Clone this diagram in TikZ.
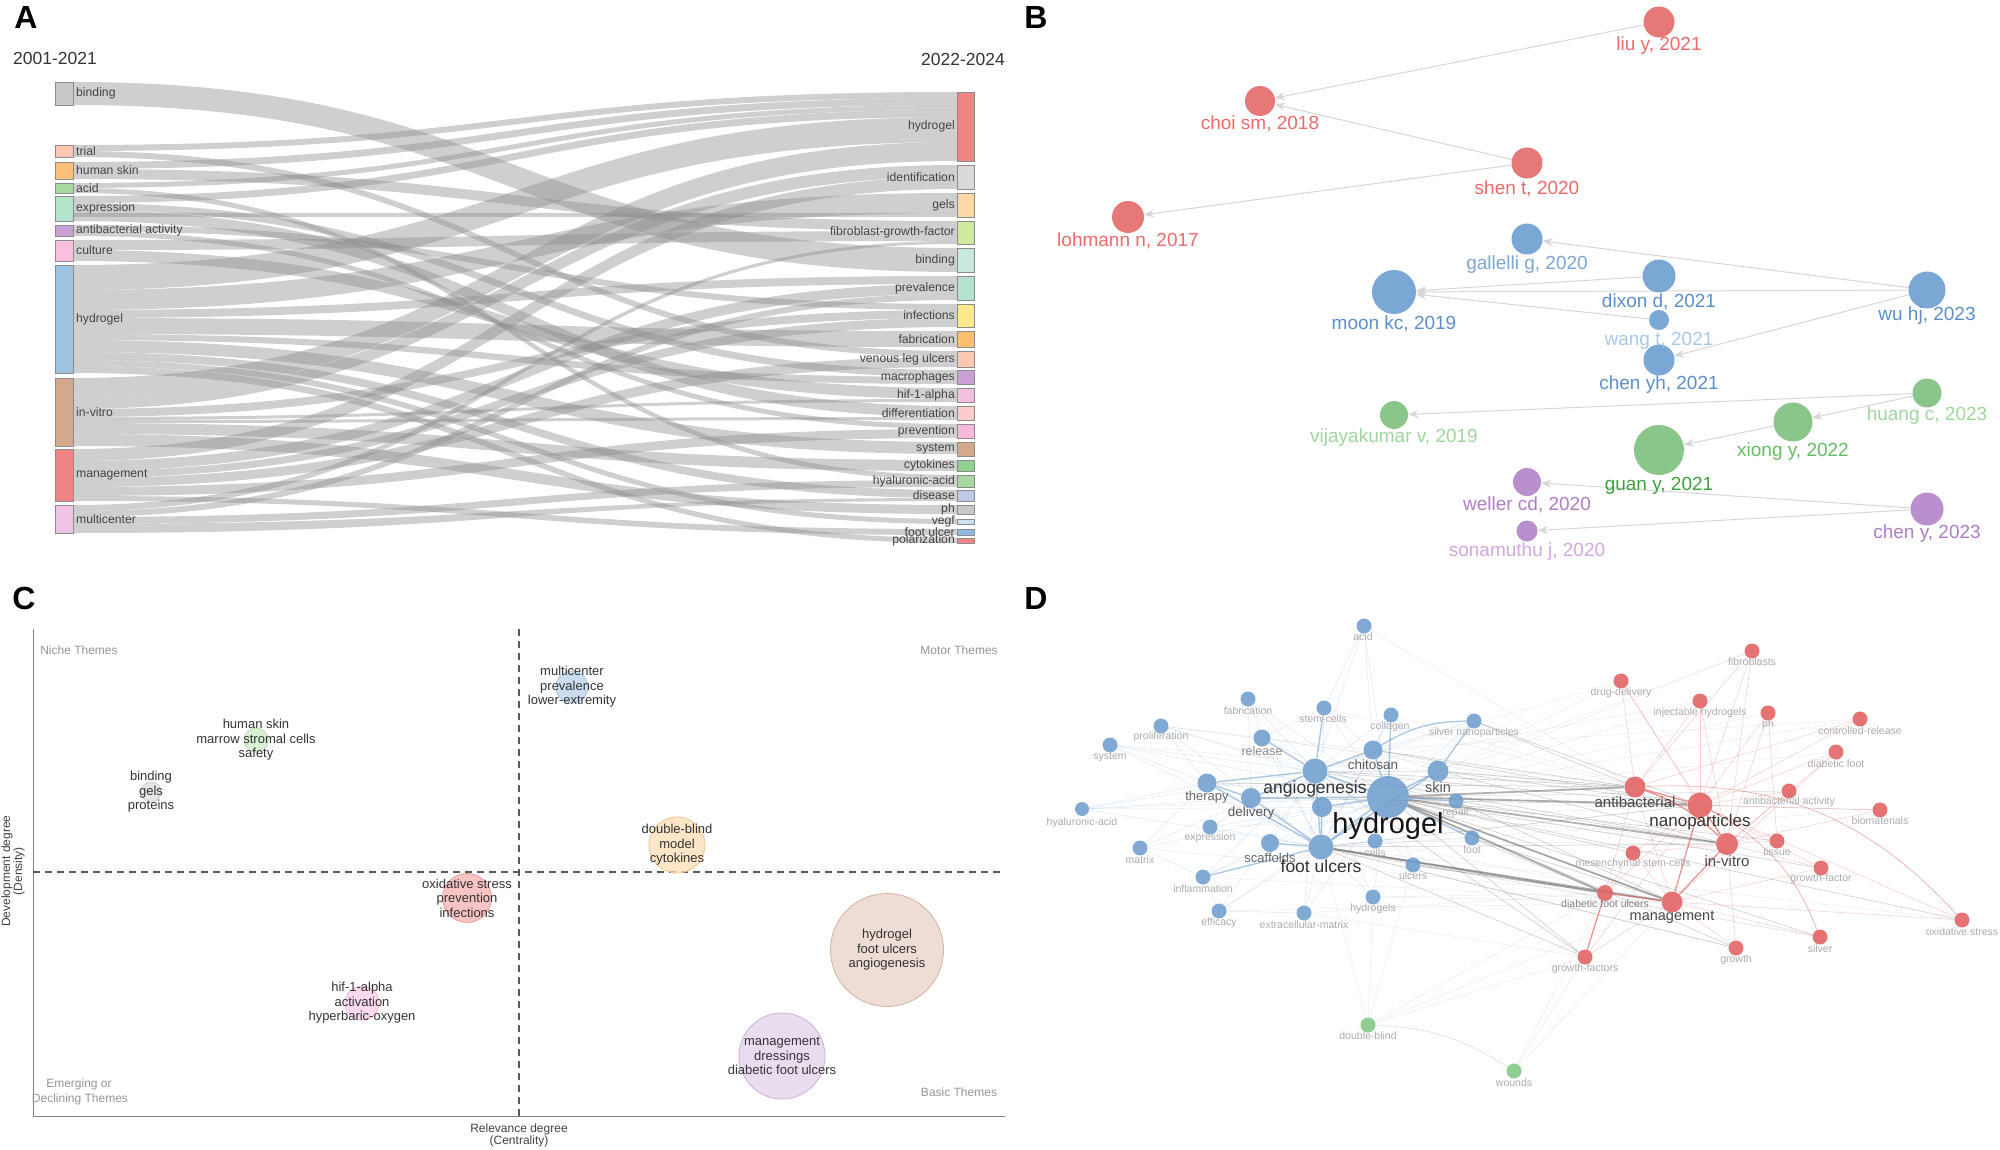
\documentclass[tikz,border=0pt]{standalone}
\usepackage{fontspec}
\setmainfont{Liberation Sans}
\usetikzlibrary{arrows.meta}
\newcommand\fsz[1]{\fontsize{#1}{#1}\selectfont}
\definecolor{txA}{HTML}{444444}
\definecolor{bRf}{HTML}{E46C6C}\definecolor{bRt}{HTML}{EE6A6A}
\definecolor{bBf}{HTML}{6F9FCF}\definecolor{bBt}{HTML}{5B8FCB}\definecolor{bBl}{HTML}{A9C8E8}
\definecolor{bGf}{HTML}{80C080}\definecolor{bGl}{HTML}{9ED79E}\definecolor{bGm}{HTML}{66BB66}\definecolor{bGd}{HTML}{3DA03D}
\definecolor{bPf}{HTML}{B385C9}\definecolor{bPt}{HTML}{B07CC8}\definecolor{bPl}{HTML}{D3A6E0}
\definecolor{dBc}{HTML}{6A9BCB}\definecolor{dRc}{HTML}{E05A5A}\definecolor{dGc}{HTML}{7CC47C}
% sankey colours
\definecolor{sGray}{HTML}{C8C8C8}\definecolor{sSalm}{HTML}{FCC8B4}\definecolor{sOra}{HTML}{FDBF79}
\definecolor{sGrn}{HTML}{A6D8A0}\definecolor{sMint}{HTML}{B3E2CD}\definecolor{sPur}{HTML}{C9A0D4}
\definecolor{sPink}{HTML}{FBC0E0}\definecolor{sBlue}{HTML}{9EC3E0}\definecolor{sTan}{HTML}{D4A88C}
\definecolor{sRed}{HTML}{F08585}\definecolor{sPk2}{HTML}{F0C4E4}\definecolor{sLGr}{HTML}{D9D9D9}
\definecolor{sPeach}{HTML}{FDD9A8}\definecolor{sLime}{HTML}{D0E8A0}\definecolor{sTeal}{HTML}{C8E8E0}
\definecolor{sYel}{HTML}{FCE98C}\definecolor{sOr2}{HTML}{FDBF6F}\definecolor{sPk3}{HTML}{F4C0E0}
\definecolor{sPk4}{HTML}{FCCCCC}\definecolor{sPk5}{HTML}{F8B8DC}\definecolor{sGr2}{HTML}{90D090}
\definecolor{sLav}{HTML}{C0C8E8}\definecolor{sSky}{HTML}{CCE2F2}\definecolor{sBl2}{HTML}{90B8E0}
\pgfdeclarelayer{bg}
\pgfsetlayers{bg,main}
\newcommand\flowrib[4]{\fill[flowc] (73,#1) .. controls (515,#1) and (515,#3) .. (957,#3) -- (957,#4) .. controls (515,#4) and (515,#2) .. (73,#2) -- cycle;}
\newcommand\sankL[5]{%
 \pgfmathsetmacro\ymid{(#2+#3)/2}\pgfmathsetmacro\hh{#3-#2}%
 \node[sbar,fill=#4,minimum width=18pt,minimum height=\hh pt] (#1) at (64,\ymid) {};
 \node[alab,anchor=west] at (76,\ymid) {#5};}
\newcommand\sankR[5]{%
 \pgfmathsetmacro\ymid{(#2+#3)/2}\pgfmathsetmacro\hh{#3-#2}%
 \node[sbar,fill=#4,minimum width=17pt,minimum height=\hh pt] (#1) at (965.5,\ymid) {};
 \node[alab,anchor=east] at (955,\ymid) {#5};}
\begin{document}
\begin{tikzpicture}[x=1pt,y=-1pt,
 plet/.style={font=\fsz{32}\bfseries, inner sep=0},
 flowc/.style={fill=black!45, opacity=0.42},
 sbar/.style={draw=black!45, line width=0.7pt, inner sep=0},
 alab/.style={font=\fsz{12.2}, text=txA, inner sep=0},
 yr/.style={font=\fsz{17.5}, text=black!80, inner sep=0},
 bnode/.style={circle, inner sep=0, fill opacity=0.92},
 blab/.style={font=\fsz{19}, inner sep=0},
 bedge/.style={draw=black!16, line width=1pt, -{Stealth[length=10pt,width=8pt]}},
 bub/.style={circle, inner sep=0, fill opacity=0.75, line width=0.8pt},
 ctext/.style={font=\fsz{13}, align=center, text=black!80, inner sep=0},
 quad/.style={font=\fsz{12}, text=black!42, inner sep=0},
 axl/.style={font=\fsz{12}, text=black!75, inner sep=0, align=center},
 dbn/.style={circle, inner sep=0, fill=dBc, fill opacity=0.85},
 drn/.style={circle, inner sep=0, fill=dRc, fill opacity=0.85},
 dgn/.style={circle, inner sep=0, fill=dGc, fill opacity=0.85},
 dls/.style={font=\fsz{10.5}, text=black!33, inner sep=0},
 eb/.style={draw=dBc, opacity=.22, line width=.5pt},
 ebs/.style={draw=dBc, opacity=.55, line width=1.4pt},
 eg/.style={draw=black!50, opacity=.35, line width=.7pt},
 egs/.style={draw=black!55, opacity=.55, line width=1.8pt},
 egf/.style={draw=black!35, opacity=.22, line width=.5pt},
 er/.style={draw=dRc, opacity=.3, line width=.5pt},
 ers/.style={draw=dRc, opacity=.65, line width=1.3pt}]
\useasboundingbox (0,0) rectangle (2000,1150);

% ================= Panel A =================
\node[plet] at (26,17) {A};
\node[yr,anchor=west] at (13,58) {2001-2021};
\node[yr,anchor=east] at (1005,59) {2022-2024};
% flows
\flowrib{82}{105}{248}{272}
\flowrib{145}{151}{92}{98}
\flowrib{151}{157}{351}{357}
\flowrib{162}{169}{98}{105}
\flowrib{169}{179}{221}{231}
\flowrib{183}{188}{105}{110}
\flowrib{188}{193}{475}{480}
\flowrib{196}{203}{110}{117}
\flowrib{203}{210}{370}{377}
\flowrib{210}{221}{406}{417}
\flowrib{225}{231}{304}{310}
\flowrib{231}{236}{424}{429}
\flowrib{240}{250}{231}{241}
\flowrib{250}{261}{388}{399}
\flowrib{265}{290}{117}{142}
\flowrib{290}{310}{193}{213}
\flowrib{310}{318}{276}{284}
\flowrib{318}{334}{331}{347}
\flowrib{334}{340}{377}{384}
\flowrib{340}{352}{442}{454}
\flowrib{352}{360}{490}{498}
\flowrib{360}{366}{519}{524}
\flowrib{366}{373}{538}{543}
\flowrib{378}{397}{142}{161}
\flowrib{397}{409}{165}{177}
\flowrib{409}{417}{310}{318}
\flowrib{417}{420}{399}{402}
\flowrib{420}{423}{417}{420}
\flowrib{423}{434}{460}{471}
\flowrib{434}{446}{505}{514}
\flowrib{449}{461}{177}{189}
\flowrib{461}{471}{284}{294}
\flowrib{471}{478}{318}{327}
\flowrib{478}{487}{357}{367}
\flowrib{487}{496}{429}{438}
\flowrib{496}{501}{529}{535}
\flowrib{505}{511}{241}{244}
\flowrib{511}{517}{294}{300}
\flowrib{517}{524}{480}{487}
\flowrib{524}{533}{498}{501}
\flowrib{213}{217}{213}{217}
% left bars
\sankL{La}{82}{105}{sGray}{binding}
\sankL{Lb}{145}{157}{sSalm}{trial}
\sankL{Lc}{162}{179}{sOra}{human skin}
\sankL{Ld}{183}{193}{sGrn}{acid}
\sankL{Le}{196}{221}{sMint}{expression}
\sankL{Lf}{225}{236}{sPur}{antibacterial activity}
\sankL{Lg}{240}{261}{sPink}{culture}
\sankL{Lh}{265}{373}{sBlue}{hydrogel}
\sankL{Li}{378}{446}{sTan}{in-vitro}
\sankL{Lj}{449}{501}{sRed}{management}
\sankL{Lk}{505}{533}{sPk2}{multicenter}
% right bars
\sankR{Ra}{92}{161}{sRed}{hydrogel}
\sankR{Rb}{165}{189}{sLGr}{identification}
\sankR{Rc}{193}{217}{sPeach}{gels}
\sankR{Rd}{221}{244}{sLime}{fibroblast-growth-factor}
\sankR{Re}{248}{272}{sTeal}{binding}
\sankR{Rf}{276}{300}{sMint}{prevalence}
\sankR{Rg}{304}{327}{sYel}{infections}
\sankR{Rh}{331}{347}{sOr2}{fabrication}
\sankR{Ri}{351}{367}{sSalm}{venous leg ulcers}
\sankR{Rj}{370}{384}{sPur}{macrophages}
\sankR{Rk}{388}{402}{sPk3}{hif-1-alpha}
\sankR{Rl}{406}{420}{sPk4}{differentiation}
\sankR{Rm}{424}{438}{sPk5}{prevention}
\sankR{Rn}{442}{456}{sTan}{system}
\sankR{Ro}{460}{471}{sGr2}{cytokines}
\sankR{Rp}{475}{487}{sGrn}{hyaluronic-acid}
\sankR{Rq}{490}{501}{sLav}{disease}
\sankR{Rr}{505}{514}{sGray}{ph}
\sankR{Rs}{519}{524}{sSky}{vegf}
\sankR{Rt}{529}{535}{sBl2}{foot ulcer}
\sankR{Ru}{538}{543}{sRed}{polarization}

% ================= Panel B =================
\node[plet] at (1036,17) {B};
\node[bnode,fill=bRf,minimum size=31] (liu) at (1659,22) {};
\node[bnode,fill=bRf,minimum size=30] (choi) at (1260,101) {};
\node[bnode,fill=bRf,minimum size=31] (shen) at (1527,163) {};
\node[bnode,fill=bRf,minimum size=32] (lohmann) at (1128,217) {};
\node[bnode,fill=bBf,minimum size=31] (gallelli) at (1527,239) {};
\node[bnode,fill=bBf,minimum size=44] (moon) at (1394,292) {};
\node[bnode,fill=bBf,minimum size=33] (dixon) at (1659,276) {};
\node[bnode,fill=bBf,minimum size=20] (wangt) at (1659,320) {};
\node[bnode,fill=bBf,minimum size=31] (chenyh) at (1659,360) {};
\node[bnode,fill=bBf,minimum size=37] (wuhj) at (1927,290) {};
\node[bnode,fill=bGf,minimum size=29] (huangc) at (1927,393) {};
\node[bnode,fill=bGf,minimum size=39] (xiong) at (1793,422) {};
\node[bnode,fill=bGf,minimum size=28] (vijay) at (1394,415) {};
\node[bnode,fill=bGf,minimum size=50] (guan) at (1659,450) {};
\node[bnode,fill=bPf,minimum size=28] (weller) at (1527,482) {};
\node[bnode,fill=bPf,minimum size=33] (cheny) at (1927,509) {};
\node[bnode,fill=bPf,minimum size=21] (sonam) at (1527,531) {};
\node[blab,text=bRt] at (1659,46) {liu y, 2021};
\node[blab,text=bRt] at (1260,124) {choi sm, 2018};
\node[blab,text=bRt] at (1527,189) {shen t, 2020};
\node[blab,text=bRt] at (1128,241) {lohmann n, 2017};
\node[blab,text=bBt!80] at (1527,265) {gallelli g, 2020};
\node[blab,text=bBt] at (1394,324) {moon kc, 2019};
\node[blab,text=bBt] at (1659,302) {dixon d, 2021};
\node[blab,text=bBl] at (1659,341) {wang t, 2021};
\node[blab,text=bBt] at (1659,385) {chen yh, 2021};
\node[blab,text=bBt] at (1927,316) {wu hj, 2023};
\node[blab,text=bGl] at (1927,416) {huang c, 2023};
\node[blab,text=bGm] at (1793,452) {xiong y, 2022};
\node[blab,text=bGl] at (1394,438) {vijayakumar v, 2019};
\node[blab,text=bGd] at (1659,486) {guan y, 2021};
\node[blab,text=bPt] at (1527,505) {weller cd, 2020};
\node[blab,text=bPt] at (1927,534) {chen y, 2023};
\node[blab,text=bPl] at (1527,552) {sonamuthu j, 2020};
\begin{pgfonlayer}{bg}
\foreach \a/\b in {liu/choi, shen/choi, shen/lohmann, wuhj/gallelli, wuhj/moon, dixon/moon, wangt/moon, wuhj/chenyh, huangc/vijay, huangc/xiong, xiong/guan, cheny/weller, cheny/sonam}
  \draw[bedge] (\a) -- (\b);
\end{pgfonlayer}

% ================= Panel C =================
\node[plet] at (24,598) {C};
\draw[black!50, line width=1pt] (33,629) -- (33,1116) -- (1005,1116);
\draw[black!65, line width=1.1pt, dash pattern=on 7pt off 5pt] (519,629) -- (519,1116);
\draw[black!65, line width=1.1pt, dash pattern=on 7pt off 5pt] (33,872) -- (1005,872);
\node[quad] at (79,650) {Niche Themes};
\node[quad] at (959,650) {Motor Themes};
\node[quad] at (79,1084) {Emerging or};
\node[quad] at (80,1099) {Declining Themes};
\node[quad] at (959,1092) {Basic Themes};
\node[axl, rotate=90] at (13,871) {Development degree\\(Density)};
\node[axl] at (519,1135) {Relevance degree\\(Centrality)};
\node[bub, fill={rgb,255:red,185;green,210;blue,234}, draw={rgb,255:red,168;green,196;blue,224}, minimum size=32] (c1) at (572,687) {};
\node[bub, fill={rgb,255:red,205;green,235;blue,198}, draw={rgb,255:red,181;green,221;blue,176}, minimum size=24] (c2) at (256,740) {};
\node[bub, fill=black!13, draw=black!19, minimum size=20] (c3) at (151,792) {};
\node[bub, fill={rgb,255:red,253;green,220;blue,181}, draw={rgb,255:red,250;green,196;blue,142}, minimum size=56] (c4) at (677,845) {};
\node[bub, fill={rgb,255:red,245;green,175;blue,175}, draw={rgb,255:red,238;green,154;blue,154}, minimum size=49] (c5) at (467,898) {};
\node[bub, fill={rgb,255:red,249;green,205;blue,235}, draw={rgb,255:red,242;green,184;blue,222}, minimum size=34] (c6) at (362,1003) {};
\node[bub, fill={rgb,255:red,232;green,210;blue,197}, draw={rgb,255:red,210;green,178;blue,158}, minimum size=113] (c7) at (887,950) {};
\node[bub, fill={rgb,255:red,227;green,208;blue,234}, draw={rgb,255:red,205;green,176;blue,218}, minimum size=86] (c8) at (782,1056) {};
\node[ctext] at (c1.center) {\fsz{13}multicenter\\[1.5pt]prevalence\\[1.5pt]lower-extremity};
\node[ctext] at (c2.center) {\fsz{13}human skin\\[1.5pt]marrow stromal cells\\[1.5pt]safety};
\node[ctext] at (c3.center) {\fsz{13}binding\\[1.5pt]gels\\[1.5pt]proteins};
\node[ctext] at (c4.center) {\fsz{13}double-blind\\[1.5pt]model\\[1.5pt]cytokines};
\node[ctext] at (c5.center) {\fsz{13}oxidative stress\\[1.5pt]prevention\\[1.5pt]infections};
\node[ctext] at (c6.center) {\fsz{13}hif-1-alpha\\[1.5pt]activation\\[1.5pt]hyperbaric-oxygen};
\node[ctext] at (c7.center) {\fsz{13}hydrogel\\[1.5pt]foot ulcers\\[1.5pt]angiogenesis};
\node[ctext] at (c8.center) {\fsz{13}management\\[1.5pt]dressings\\[1.5pt]diabetic foot ulcers};

% ================= Panel D =================
\node[plet] at (1036,598) {D};
% blue
\node[dbn,minimum size=15] (acid) at (1364,626) {};
\node[dbn,minimum size=15] (fabr) at (1248,699) {};
\node[dbn,minimum size=15] (stemc) at (1324,708) {};
\node[dbn,minimum size=15] (coll) at (1391,715) {};
\node[dbn,minimum size=15] (silnp) at (1474,721) {};
\node[dbn,minimum size=15] (prolif) at (1161,726) {};
\node[dbn,minimum size=15] (system) at (1110,745) {};
\node[dbn,minimum size=17] (release) at (1262,738) {};
\node[dbn,minimum size=19] (chitosan) at (1373,750) {};
\node[dbn,minimum size=25] (angio) at (1315,771) {};
\node[dbn,minimum size=21] (skin) at (1438,771) {};
\node[dbn,minimum size=19] (therapy) at (1207,783) {};
\node[dbn,minimum size=20] (delivery) at (1251,798) {};
\node[dbn,minimum size=42] (hgel) at (1388,797) {};
\node[dbn,minimum size=20] (unl) at (1322,807) {};
\node[dbn,minimum size=15] (repair) at (1456,801) {};
\node[dbn,minimum size=14] (hyal) at (1082,809) {};
\node[dbn,minimum size=15] (expr) at (1210,827) {};
\node[dbn,minimum size=15] (matrix) at (1140,848) {};
\node[dbn,minimum size=18] (scaff) at (1270,843) {};
\node[dbn,minimum size=25] (fulc) at (1321,847) {};
\node[dbn,minimum size=15] (cells) at (1375,841) {};
\node[dbn,minimum size=15] (foot) at (1472,838) {};
\node[dbn,minimum size=15] (ulcers) at (1413,865) {};
\node[dbn,minimum size=15] (inflam) at (1203,877) {};
\node[dbn,minimum size=15] (hgels) at (1373,897) {};
\node[dbn,minimum size=15] (effic) at (1219,911) {};
\node[dbn,minimum size=15] (ecm) at (1304,913) {};
% green
\node[dgn,minimum size=15] (dblind) at (1368,1025) {};
\node[dgn,minimum size=15] (wounds) at (1514,1071) {};
% red
\node[drn,minimum size=15] (fibro) at (1752,651) {};
\node[drn,minimum size=15] (drugd) at (1621,681) {};
\node[drn,minimum size=15] (inject) at (1700,701) {};
\node[drn,minimum size=15] (ph) at (1768,713) {};
\node[drn,minimum size=15] (contr) at (1860,719) {};
\node[drn,minimum size=15] (dfoot) at (1836,752) {};
\node[drn,minimum size=21] (antib) at (1635,787) {};
\node[drn,minimum size=25] (nano) at (1700,805) {};
\node[drn,minimum size=15] (antiact) at (1789,791) {};
\node[drn,minimum size=15] (biomat) at (1880,810) {};
\node[drn,minimum size=22] (invitro) at (1727,844) {};
\node[drn,minimum size=15] (tissue) at (1777,841) {};
\node[drn,minimum size=15] (mesen) at (1633,853) {};
\node[drn,minimum size=15] (gfactor) at (1821,868) {};
\node[drn,minimum size=16] (dfu) at (1605,893) {};
\node[drn,minimum size=21] (manag) at (1672,902) {};
\node[drn,minimum size=15] (gfactors) at (1585,957) {};
\node[drn,minimum size=15] (growth) at (1736,948) {};
\node[drn,minimum size=15] (silver) at (1820,937) {};
\node[drn,minimum size=15] (oxs) at (1962,920) {};
\begin{pgfonlayer}{bg}
\foreach \a/\b in {acid/hgel, acid/chitosan, acid/angio, acid/stemc, fabr/angio, fabr/hgel, fabr/fulc, fabr/delivery, system/therapy, system/angio, system/hgel, system/fulc, hyal/therapy, hyal/hgel, hyal/angio, hyal/delivery, hyal/fulc, matrix/hgel, matrix/inflam, matrix/therapy, matrix/angio, expr/hgel, expr/angio, expr/fulc, inflam/hgel, inflam/angio, inflam/scaff, effic/fulc, effic/hgel, effic/angio, effic/inflam, ecm/hgel, ecm/fulc, ecm/angio, ecm/effic, hgels/fulc, hgels/hgel, hgels/angio, ulcers/hgel, ulcers/fulc, ulcers/angio, cells/fulc, cells/hgel, prolif/hgel, prolif/fulc, prolif/angio, prolif/therapy, stemc/hgel, stemc/fulc, stemc/chitosan, coll/fulc, coll/angio, coll/chitosan, release/fulc, release/hgel, release/chitosan, silnp/hgel, silnp/chitosan, silnp/angio, scaff/hgel, scaff/angio, repair/angio, foot/fulc, foot/angio, chitosan/fulc, skin/angio, skin/chitosan, therapy/hgel, prolif/release, fabr/release, stemc/release}
  \draw[eb] (\a) -- (\b);
\foreach \a/\b in {drugd/hgel, drugd/angio, inject/hgel, inject/angio, fibro/hgel, fibro/skin, ph/hgel, contr/hgel, contr/chitosan, dfoot/hgel, antiact/hgel, biomat/fulc, biomat/hgel, oxs/fulc, silver/fulc, growth/fulc, dblind/fulc, dblind/manag, dblind/dfu, dblind/hgels, dblind/gfactors, wounds/manag, wounds/dfu, wounds/gfactors, dblind/ulcers, ecm/dfu, ecm/gfactors, hgels/manag, hgels/dfu, effic/manag, inflam/manag, matrix/dfu, cells/invitro, cells/manag, expr/nano, system/antib, hyal/nano, prolif/antib, release/nano, stemc/antib, coll/nano, acid/antib, therapy/invitro, scaff/manag, delivery/invitro, hgel/antiact, hgel/biomat, fulc/silver}
  \draw[egf] (\a) -- (\b);
\foreach \a/\b in {hgel/mesen, hgel/gfactor, hgel/tissue, fulc/invitro, fulc/nano, angio/nano, angio/antib, skin/antib, skin/nano, chitosan/antib, chitosan/nano, angio/invitro, angio/manag, fulc/gfactors, angio/gfactors, foot/manag, foot/dfu, therapy/antib, delivery/nano, silnp/antib, silnp/nano, skin/invitro, repair/invitro, repair/manag, ulcers/manag, ulcers/dfu, hgel/gfactors, hgel/growth, hgel/silver, hgel/oxs, fulc/growth}
  \draw[eg] (\a) -- (\b);
\foreach \a/\b in {hgel/antib, hgel/nano, hgel/invitro, hgel/manag, fulc/manag, fulc/dfu, hgel/dfu}
  \draw[egs] (\a) -- (\b);
\foreach \a/\b in {hgel/angio, hgel/fulc, hgel/chitosan, hgel/skin, hgel/delivery, angio/fulc, angio/therapy, angio/stemc, angio/release, fulc/scaff, fulc/inflam, hgel/coll, chitosan/angio, skin/silnp, therapy/delivery, delivery/fulc, hgel/unl, unl/fulc, therapy/fulc, angio/delivery, skin/fulc, hgel/foot, hgel/repair}
  \draw[ebs] (\a) -- (\b);
\draw[ebs] (chitosan) to[bend left=15] (silnp);
\foreach \a/\b in {drugd/antib, drugd/nano, drugd/invitro, inject/nano, inject/antib, inject/invitro, fibro/nano, fibro/invitro, fibro/antib, ph/nano, ph/tissue, ph/invitro, contr/nano, contr/antib, dfoot/nano, dfoot/manag, dfoot/invitro, antiact/nano, antiact/invitro, biomat/nano, biomat/invitro, tissue/nano, tissue/invitro, gfactor/manag, gfactor/nano, gfactor/invitro, mesen/nano, mesen/manag, mesen/dfu, manag/gfactors, growth/invitro, growth/manag, silver/manag, oxs/manag, oxs/nano, mesen/invitro, dfu/antib, dfu/nano, gfactors/nano, antib/manag}
  \draw[er] (\a) -- (\b);
\foreach \a/\b in {antib/nano, nano/invitro, manag/dfu, manag/invitro, manag/nano, dfu/gfactors}
  \draw[ers] (\a) -- (\b);
\draw[ers] (antib) to[bend left=12] (invitro);
\draw[er, opacity=.6] (nano) to[bend left=20] (silver);
\draw[er, opacity=.6] (antib) to[bend left=25] (oxs);
\draw[draw=dGc, opacity=.35, line width=.6pt] (dblind) to[bend left=15] (wounds);
\end{pgfonlayer}
% labels
\node[dls] at (1363,637) {acid};
\node[dls] at (1248,711) {fabrication};
\node[dls] at (1323,719) {stem-cells};
\node[dls] at (1390,727) {collagen};
\node[dls] at (1474,733) {silver nanoparticles};
\node[dls] at (1161,737) {proliferation};
\node[dls] at (1110,757) {system};
\node[dls,font=\fsz{12.5},text=black!45] at (1262,751) {release};
\node[dls,font=\fsz{13.5},text=black!65] at (1373,765) {chitosan};
\node[dls,font=\fsz{17.5},text=black!80] at (1315,789) {angiogenesis};
\node[dls,font=\fsz{14.5},text=black!65] at (1438,787) {skin};
\node[dls,font=\fsz{13},text=black!60] at (1207,797) {therapy};
\node[dls,font=\fsz{13.5},text=black!65] at (1251,813) {delivery};
\node[dls,font=\fsz{29},text=black!92] at (1388,826) {hydrogel};
\node[dls] at (1456,813) {repair};
\node[dls] at (1082,823) {hyaluronic-acid};
\node[dls] at (1210,838) {expression};
\node[dls] at (1140,860) {matrix};
\node[dls,font=\fsz{13},text=black!60] at (1270,858) {scaffolds};
\node[dls,font=\fsz{17.5},text=black!80] at (1321,866) {foot ulcers};
\node[dls] at (1375,853) {cells};
\node[dls] at (1472,850) {foot};
\node[dls] at (1413,876) {ulcers};
\node[dls] at (1203,889) {inflammation};
\node[dls] at (1373,909) {hydrogels};
\node[dls] at (1219,923) {efficacy};
\node[dls] at (1304,925) {extracellular-matrix};
\node[dls] at (1368,1036) {double-blind};
\node[dls] at (1514,1083) {wounds};
\node[dls] at (1752,662) {fibroblasts};
\node[dls] at (1621,693) {drug-delivery};
\node[dls] at (1700,713) {injectable hydrogels};
\node[dls] at (1768,725) {ph};
\node[dls] at (1860,731) {controlled-release};
\node[dls] at (1836,764) {diabetic foot};
\node[dls,font=\fsz{15},text=black!72] at (1635,802) {antibacterial};
\node[dls,font=\fsz{17},text=black!80] at (1700,822) {nanoparticles};
\node[dls] at (1789,802) {antibacterial activity};
\node[dls] at (1880,821) {biomaterials};
\node[dls,font=\fsz{15},text=black!72] at (1727,861) {in-vitro};
\node[dls] at (1777,852) {tissue};
\node[dls] at (1633,864) {mesenchymal stem-cells};
\node[dls] at (1821,879) {growth-factor};
\node[dls,text=black!50] at (1605,904) {diabetic foot ulcers};
\node[dls,font=\fsz{14.5},text=black!72] at (1672,917) {management};
\node[dls] at (1585,969) {growth-factors};
\node[dls] at (1736,960) {growth};
\node[dls] at (1820,949) {silver};
\node[dls] at (1962,932) {oxidative stress};
\end{tikzpicture}
\end{document}
